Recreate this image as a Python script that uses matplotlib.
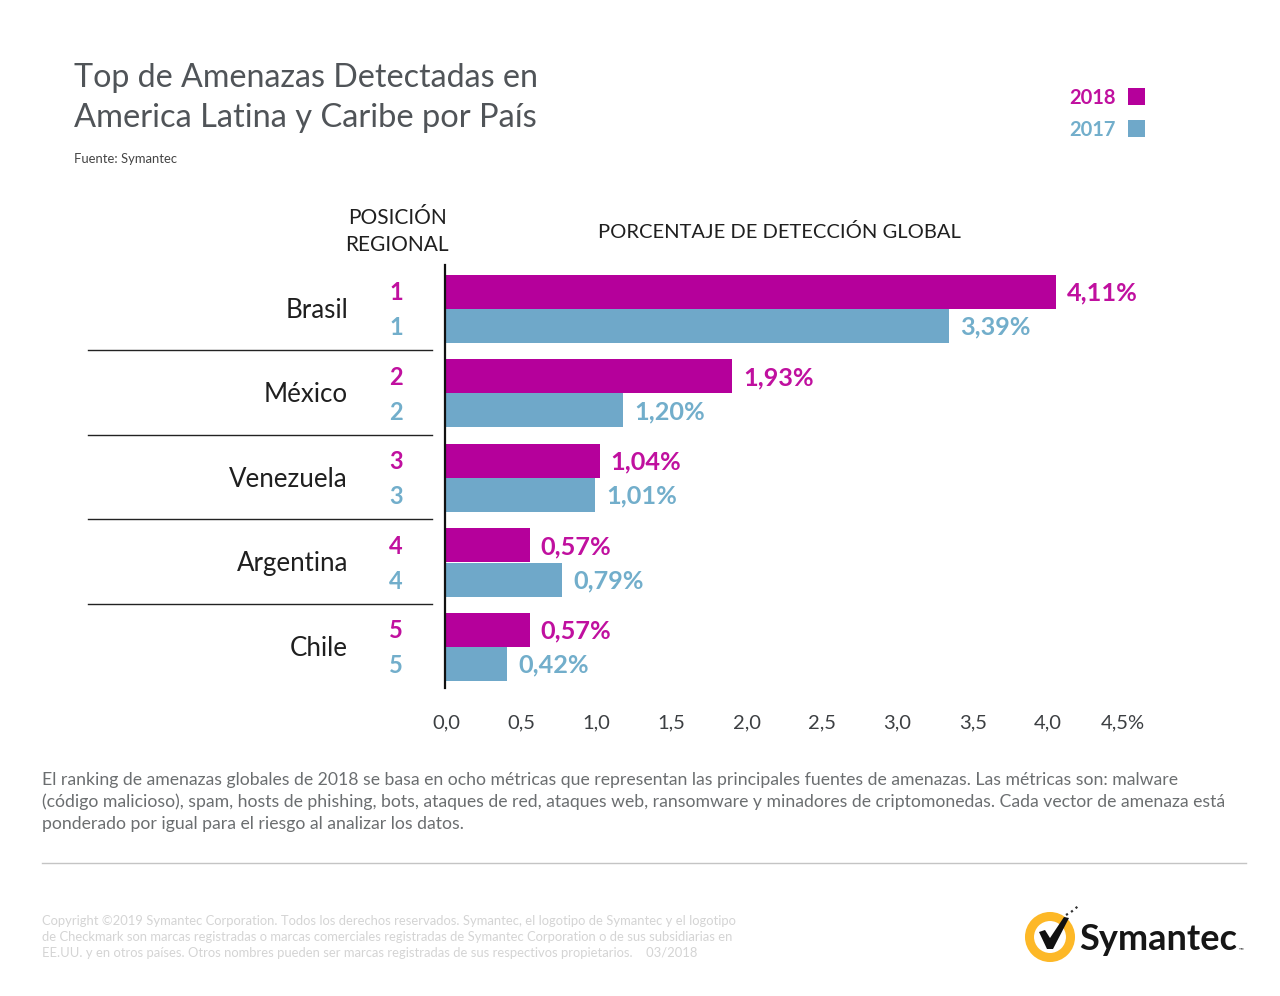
import matplotlib
matplotlib.use("Agg")
import matplotlib.pyplot as plt
from matplotlib.patches import Circle, Polygon, Rectangle

plt.rcParams['font.family'] = ['Lato', 'DejaVu Sans']

W, H = 1280, 996
MAGENTA = '#b5009b'
MAGENTA_TXT = '#c0109f'
BLUE = '#6fa8c9'
BLUE_TXT = '#72aecb'
DARK = '#1f1f1f'
TITLE = '#505458'
BODY = '#6b6e70'

countries = ['Brasil', 'México', 'Venezuela', 'Argentina', 'Chile']
values_2018 = [4.11, 1.93, 1.04, 0.57, 0.57]
values_2017 = [3.39, 1.20, 1.01, 0.79, 0.42]
labels_2018 = ['4,11%', '1,93%', '1,04%', '0,57%', '0,57%']
labels_2017 = ['3,39%', '1,20%', '1,01%', '0,79%', '0,42%']
ranks_2018 = [1, 2, 3, 4, 5]
ranks_2017 = [1, 2, 3, 4, 5]
tick_values = [0, 0.5, 1, 1.5, 2, 2.5, 3, 3.5, 4, 4.5]
tick_labels = ['0,0', '0,5', '1,0', '1,5', '2,0', '2,5', '3,0', '3,5', '4,0', '4,5%']

fig = plt.figure(figsize=(W / 100, H / 100), dpi=100, facecolor='white')

# Full-figure overlay in pixel coordinates for text and decorations
ov = fig.add_axes([0, 0, 1, 1], zorder=0)
ov.set_xlim(0, W)
ov.set_ylim(H, 0)
ov.axis('off')

# Bar axes
AX_L, AX_R, AX_T, AX_B = 445, 1125, 265, 688
PX_PER_UNIT = 148.6
ROW0, PITCH = 309, 84.5
ax = fig.add_axes([AX_L / W, 1 - AX_B / H, (AX_R - AX_L) / W, (AX_B - AX_T) / H], zorder=2)
ax.patch.set_alpha(0)
ax.set_xlim(0, (AX_R - AX_L) / PX_PER_UNIT)
ax.set_ylim((AX_B - ROW0) / PITCH, (AX_T - ROW0) / PITCH)
rows = list(range(len(countries)))
BAR_H = 34 / PITCH
ax.barh([r - BAR_H / 2 for r in rows], values_2018, height=BAR_H, color=MAGENTA, linewidth=0)
ax.barh([r + BAR_H / 2 for r in rows], values_2017, height=BAR_H, color=BLUE, linewidth=0)
for r, v, t in zip(rows, values_2018, labels_2018):
    ax.annotate(t, (v, r - BAR_H / 2), xytext=(8, -1), textcoords='offset points',
                ha='left', va='center', fontsize=18.2, fontweight='bold', color=MAGENTA_TXT)
for r, v, t in zip(rows, values_2017, labels_2017):
    ax.annotate(t, (v, r + BAR_H / 2), xytext=(8, -1), textcoords='offset points',
                ha='left', va='center', fontsize=18.2, fontweight='bold', color=BLUE_TXT)
ax.set_xticks([])
ax.set_yticks([])
for s in ['top', 'right', 'bottom']:
    ax.spines[s].set_visible(False)
ax.spines['left'].set_linewidth(1.6)
ax.spines['left'].set_color('#111111')

# Tick labels sit on their own scale in the reference (slightly wider than the bars)
TICK_PX = 150.5
ax_t = fig.add_axes([446 / W, 1 - AX_B / H, (AX_R - 446) / W, (AX_B - AX_T) / H], zorder=1)
ax_t.patch.set_alpha(0)
ax_t.set_xlim(0, (AX_R - 446) / TICK_PX)
ax_t.set_yticks([])
ax_t.set_xticks(tick_values, tick_labels, fontsize=14.5, color='#3c3f42')
ax_t.tick_params(axis='x', length=0, pad=19)
for s in ax_t.spines.values():
    s.set_visible(False)

# Country names, ranks, separators
for r, c, a, b in zip(rows, countries, ranks_2018, ranks_2017):
    y = ROW0 + r * PITCH
    ov.text(348, y + 1, c, ha='right', va='center', fontsize=18.6, color=DARK)
    ov.text(396, y - 16.5, str(a), ha='center', va='center', fontsize=17, fontweight='bold', color=MAGENTA_TXT)
    ov.text(396, y + 18.5, str(b), ha='center', va='center', fontsize=17, fontweight='bold', color=BLUE_TXT)
    if r < len(rows) - 1:
        ov.plot([88, 432], [y + 41] * 2, color='#222222', lw=1)

# Title block
ov.text(74, 78, 'Top de Amenazas Detectadas en', fontsize=23.2, color=TITLE, va='center', ha='left')
ov.text(74, 118, 'America Latina y Caribe por País', fontsize=23.5, color=TITLE, va='center', ha='left')
ov.text(74, 159, 'Fuente: Symantec', fontsize=9.4, color='#444444', va='center', ha='left')

# Legend
ov.text(1116, 98, '2018', fontsize=14.5, fontweight='bold', color=MAGENTA_TXT, ha='right', va='center')
ov.text(1116, 130, '2017', fontsize=14.5, fontweight='bold', color=BLUE_TXT, ha='right', va='center')
ov.add_patch(Rectangle((1128, 88), 17, 17, color=MAGENTA, lw=0))
ov.add_patch(Rectangle((1128, 120), 17, 17, color=BLUE, lw=0))

# Column headers
ov.text(397, 218, 'POSICIÓN', fontsize=15, color=DARK, ha='center', va='center')
ov.text(397, 245, 'REGIONAL', fontsize=15, color=DARK, ha='center', va='center')
ov.text(779, 232, 'PORCENTAJE DE DETECCIÓN GLOBAL', fontsize=14.5, color=DARK, ha='center', va='center')

# Body text
body = ['El ranking de amenazas globales de 2018 se basa en ocho métricas que representan las principales fuentes de amenazas. Las métricas son: malware',
        '(código malicioso), spam, hosts de phishing, bots, ataques de red, ataques web, ransomware y minadores de criptomonedas. Cada vector de amenaza está',
        'ponderado por igual para el riesgo al analizar los datos.']
for y, t in zip([780, 802, 824], body):
    ov.text(42, y, t, fontsize=12.7, color=BODY, ha='left', va='center')

ov.plot([42, 1246], [863, 863], color='#c4c4c4', lw=1)

# Copyright
legal = ['Copyright ©2019 Symantec Corporation. Todos los derechos reservados. Symantec, el logotipo de Symantec y el logotipo',
         'de Checkmark son marcas registradas o marcas comerciales registradas de Symantec Corporation o de sus subsidiarias en',
         'EE.UU. y en otros países. Otros nombres pueden ser marcas registradas de sus respectivos propietarios.    03/2018']
for y, t in zip([921, 937, 953], legal):
    ov.text(42, y, t, fontsize=9.4, color='#d4d4d4', ha='left', va='center')

# Logo
ov.add_patch(Circle((1050, 937), 20.5, fill=False, ec='#fdb827', lw=6.5))
ov.add_patch(Polygon([(1039, 932), (1045, 930), (1050, 938), (1064, 917), (1069, 918),
                      (1053, 949), (1047, 949)], closed=True, fc='#111111', ec='none', zorder=3))
ov.plot([1066, 1071, 1075, 1078], [915, 912, 909, 906], ls=':', color='#333333', lw=1.6, zorder=3)
ov.text(1079, 939, 'Symantec', fontsize=26, fontweight='bold', color='#161616',
        ha='left', va='center')
ov.text(1239, 950, '™', fontsize=4.5, color='#161616', ha='left', va='center')

fig.savefig('out.png', dpi=100, facecolor='white')
